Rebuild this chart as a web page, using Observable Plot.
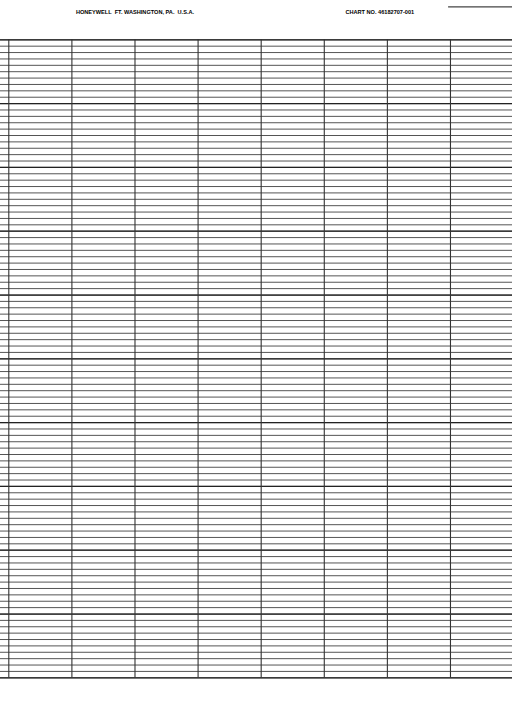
<!DOCTYPE html>
<html>
<head>
<meta charset="utf-8">
<script src="https://cdn.jsdelivr.net/npm/d3@7"></script>
<script src="https://cdn.jsdelivr.net/npm/@observablehq/plot@0.6"></script>
<style>
  html, body { margin: 0; padding: 0; background: #fff; }
  #chart svg { display: block; }
</style>
</head>
<body>
<div id="chart"></div>
<script>
// Vertical (time/column) divisions
const columns = [0, 1, 2, 3, 4, 5, 6, 7];
// Horizontal minor divisions (chart rows)
const minorRows = [0,1,2,3,4,5,6,7,8,9,10,11,12,13,14,15,16,17,18,19,20,21,22,23,24,25,26,27,28,29,30,31,32,33,34,35,36,37,38,39,40,41,42,43,44,45,46,47,48,49,50,51,52,53,54,55,56,57,58,59,60,61,62,63,64,65,66,67,68,69,70,71,72,73,74,75,76,77,78,79,80,81,82,83,84,85,86,87,88,89,90,91,92,93,94,95,96,97,98,99,100];
// Horizontal major divisions
const majorRows = [0, 10, 20, 30, 40, 50, 60, 70, 80, 90, 100];
// Header labels
const headerLabels = ["HONEYWELL  FT. WASHINGTON, PA.  U.S.A.", "CHART NO. 46182707-001"];
const headerPositions = [2, 5.88];
// Short rule at top right
const cornerRule = [{x1: 6.97, x2: 8.2, y: -5.15}];

const headers = headerLabels.map((t, i) => ({text: t, x: headerPositions[i]}));

const chart = Plot.plot({
  width: 512,
  height: 707,
  marginTop: 39.3,
  marginBottom: 29.7,
  marginLeft: 0,
  marginRight: 0,
  x: {domain: [-0.1315, 7.983], axis: null},
  y: {domain: [0, 100], axis: null},
  style: {background: "#fff"},
  marks: [
    Plot.ruleY(minorRows, {y: d => 100 - d, stroke: "#555", strokeWidth: 1}),
    Plot.ruleY(majorRows, {y: d => 100 - d, stroke: "#222", strokeWidth: 1.25}),
    Plot.ruleX(columns, {x: d => d, stroke: "#333", strokeWidth: 1.1}),
    Plot.ruleY(cornerRule, {x1: "x1", x2: "x2", y: d => 100 - d.y, stroke: "#444", strokeWidth: 1.2}),
    Plot.text(headers, {
      x: "x", text: "text", frameAnchor: "top", dy: -30,
      fontFamily: "Liberation Sans", fontWeight: "bold", fontSize: 5.6,
      fill: "#000", textAnchor: "middle"
    })
  ]
});
document.getElementById("chart").appendChild(chart);
</script>
</body>
</html>
